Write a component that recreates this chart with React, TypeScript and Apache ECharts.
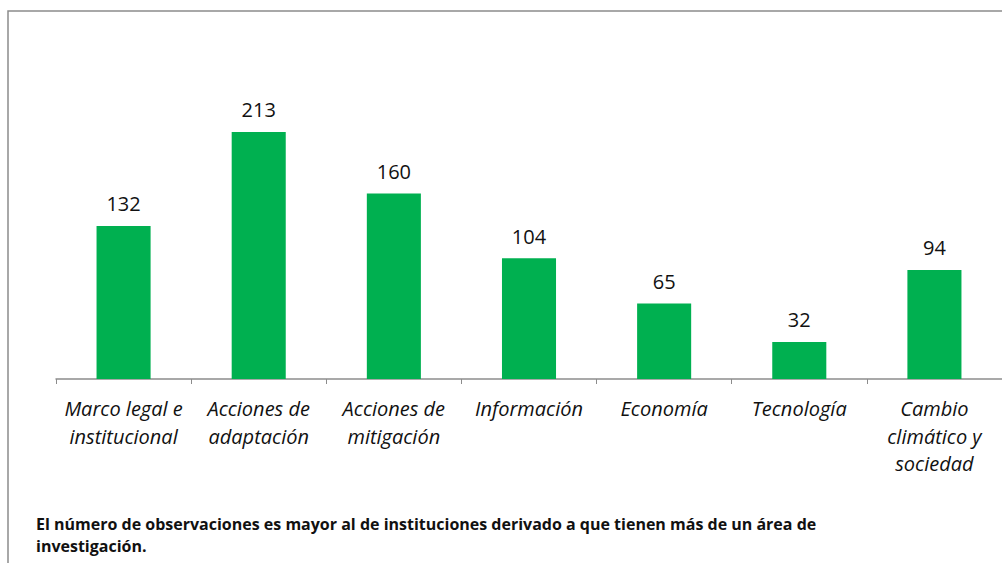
import React, { useEffect, useRef } from "react";
import * as echarts from "echarts";

const categories = [
  "Marco legal e\ninstitucional",
  "Acciones de\nadaptación",
  "Acciones de\nmitigación",
  "Información",
  "Economía",
  "Tecnología",
  "Cambio\nclimático y\nsociedad",
];
const values = [132, 213, 160, 104, 65, 32, 94];
const footnote = [
  "El número de observaciones es mayor al de instituciones derivado a que tienen más de un área de",
  "investigación.",
];

export default function App() {
  const ref = useRef<HTMLDivElement>(null);
  useEffect(() => {
    if (!ref.current) return;
    const chart = echarts.init(ref.current, null, { renderer: "svg" });
    chart.setOption({
      animation: false,
      backgroundColor: "#ffffff",
      textStyle: { fontFamily: "Open Sans" },
      grid: { left: 56, top: 89, width: 948, height: 290, containLabel: false },
      xAxis: {
        type: "category",
        data: categories,
        boundaryGap: true,
        axisLine: { show: true, lineStyle: { color: "#8c8c8c", width: 1.5 } },
        axisTick: { show: true, length: 5, lineStyle: { color: "#8c8c8c" } },
        axisLabel: {
          interval: 0,
          fontStyle: "italic",
          fontSize: 20,
          fontFamily: "Open Sans",
          color: "#111",
          lineHeight: 27.5,
          margin: 16,
        },
      },
      yAxis: {
        type: "value",
        min: 0,
        max: 250,
        show: false,
        splitLine: { show: false },
      },
      series: [
        {
          type: "bar",
          data: values,
          barWidth: "40%",
          itemStyle: { color: "#00B050" },
          label: {
            show: true,
            position: "top",
            distance: 12,
            fontSize: 20,
            fontFamily: "Open Sans",
            color: "#111",
          },
        },
      ],
      graphic: [
        {
          type: "rect",
          shape: { x: 8, y: 11, width: 1100, height: 700 },
          style: { fill: "none", stroke: "#8c8c8c", lineWidth: 1.5 },
          silent: true,
        },
        {
          type: "text",
          x: 36,
          y: 513,
          style: {
            text: footnote.join("\n"),
            font: "bold 16px 'Open Sans'",
            fill: "#111",
            lineHeight: 22,
          },
        },
      ],
    });
    return () => chart.dispose();
  }, []);
  return (
    <div
      ref={ref}
      style={{ width: 1002, height: 563, position: "fixed", left: 0, top: 0 }}
    />
  );
}
